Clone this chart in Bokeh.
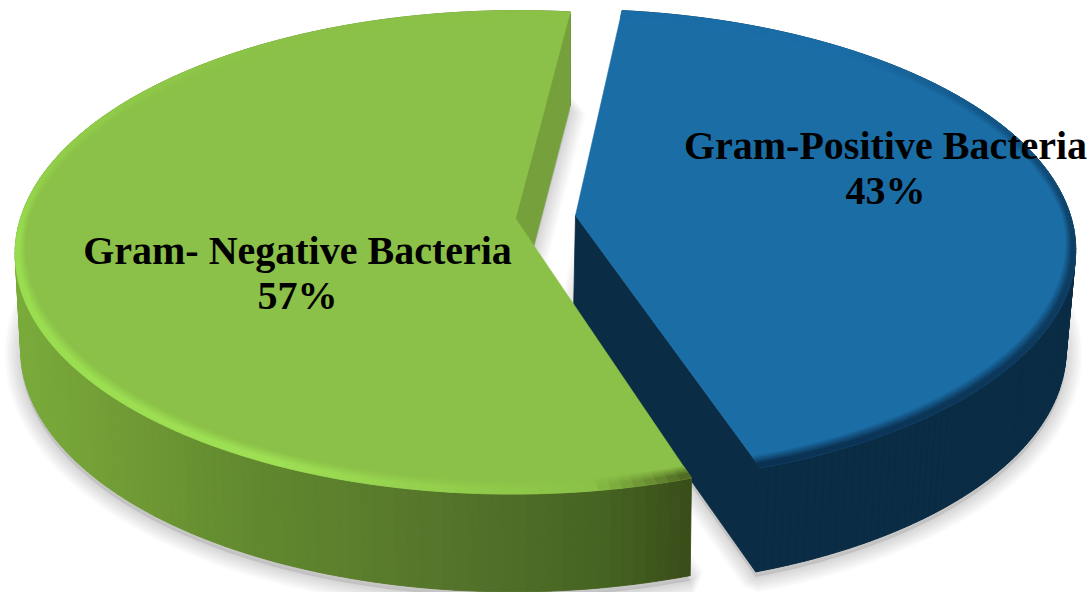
import numpy as np
from bokeh.core.properties import value
from bokeh.embed import file_html
from bokeh.models import Range1d
from bokeh.plotting import figure
from bokeh.resources import INLINE

# Chart content
categories = ["Gram-Positive Bacteria", "Gram- Negative Bacteria"]
shares = [43, 57]
share_labels = ["43%", "57%"]

WIDTH, HEIGHT = 1092, 592
START_ANGLE = 6.9  # clockwise from twelve o'clock
FONT = value("Liberation Serif")


def hex_rgb(c):
    return np.array([int(c[i:i + 2], 16) for i in (1, 3, 5)], dtype=float)


def rgb_hex(c):
    return "#%02x%02x%02x" % tuple(int(round(x)) for x in np.clip(c, 0, 255))


def ramp(x, stops):
    xs = [s[0] for s in stops]
    cols = np.array([hex_rgb(s[1]) for s in stops])
    return np.array([np.interp(x, xs, cols[:, i]) for i in range(3)])


# Projection and shading of each exploded slice of the 3-D disc
styles = [
    dict(ax=575, ay=215, sx=495, sy=233, k=0.13, skew=7, h0=99, mx=0.985, my=1.02, dx=-2,
         top="#1b6da6", inner="#0a2c44", base="#0a2c44",
         rim=[(0, "#1b6da6"), (38, "#1b6da6"), (60, "#14598b"), (95, "#0f3f63"), (165, "#0b3050")],
         wall_x=[(500, "#0a2c44"), (1100, "#0a2c44")]),
    dict(ax=515, ay=218, sx=495, sy=237, k=0.14, skew=-3, h0=95.4, mx=0.99, my=1.0086, dx=0.5,
         top="#8bc148", inner="#76a03b", base="#6d9735",
         rim=[(160, "#3f5219"), (166, "#6a8e32"), (172, "#8bc148"), (185, "#93cd4c"),
              (205, "#9fe055"), (265, "#99dd50"), (280, "#93d04c"), (310, "#8fc84a"),
              (330, "#8bc148"), (370, "#8bc148")],
         wall_x=[(15, "#7aab3b"), (120, "#719c36"), (240, "#628a2f"), (340, "#5c802d"),
                 (440, "#55752b"), (600, "#466422"), (695, "#394b19")]),
]

spans = []
a0 = START_ANGLE
for s in shares:
    spans.append((a0, a0 + 360.0 * s / sum(shares)))
    a0 = spans[-1][1]


def project(st, theta, r=1.0, bottom=False):
    t = np.radians(theta)
    u, v = r * np.sin(t), -r * np.cos(t)
    w = 1 - st["k"] * v
    if bottom:
        return (st["ax"] + st["dx"] + (st["sx"] * st["mx"] * u + st["skew"] * v) / w,
                st["ay"] + st["h0"] + st["sy"] * st["my"] * v / w)
    return st["ax"] + (st["sx"] * u + st["skew"] * v) / w, st["ay"] + st["sy"] * v / w


def rim_radius(theta, frac):
    # the bevel reads wider along the front than at the sides
    drop = 0.016 + 0.024 * abs(np.cos(np.radians(theta)))
    return 1 - drop * (1 - frac)


p = figure(width=WIDTH, height=HEIGHT, output_backend="svg", toolbar_location=None,
           x_range=Range1d(0, WIDTH), y_range=Range1d(HEIGHT, 0), min_border=0)
p.axis.visible = False
p.grid.visible = False
p.outline_line_color = None
p.background_fill_color = "white"
p.border_fill_color = "white"

# Soft ground shadow under both slices
for st, (a, b) in zip(styles, spans):
    th = np.linspace(a, b, 160)
    xb, yb = project(st, th, bottom=True)
    xb = np.r_[st["ax"] + st["dx"], xb]
    yb = np.r_[st["ay"] + st["h0"], yb] + 5
    for g in range(1, 11):
        p.patch(np.r_[xb, xb[0]], np.r_[yb, yb[0]], fill_alpha=0, line_color="#000000",
                line_alpha=0.014, line_width=3.2 * g)
    p.patch(xb, yb, fill_color="#000000", fill_alpha=0.1, line_alpha=0)

# Slices, blue first so the green front edge overlaps its inner wall
for st, (a, b) in zip(styles, spans):
    xs, ys, cs = [], [], []
    th = np.linspace(a, b, 171)

    # solid backing keeps the strip joins from showing
    xa, ya = project(st, th)
    xc, yc = project(st, th[::-1], bottom=True)
    p.patch(np.r_[xa, xc], np.r_[ya, yc], fill_color=st["base"], line_alpha=0)

    # outer wall as narrow shaded strips
    for t0, t1 in zip(th[:-1], th[1:]):
        x0, y0 = project(st, t0)
        x1, y1 = project(st, t1)
        x2, y2 = project(st, t1, bottom=True)
        x3, y3 = project(st, t0, bottom=True)
        xs.append([x0, x1, x2, x3])
        ys.append([y0, y1, y2, y3])
        cs.append(rgb_hex(ramp((x0 + x1) / 2, st["wall_x"])))
    p.patches(xs, ys, fill_color=cs, line_color=cs, line_width=0.8)

    # inner wall along the radial edge that faces the viewer
    edge = b
    xe, ye = project(st, edge)
    xf, yf = project(st, edge, bottom=True)
    p.patch([st["ax"], xe, xf, st["ax"] + st["dx"]], [st["ay"], ye, yf, st["ay"] + st["h0"]],
            fill_color=st["inner"], line_color=st["inner"], line_width=0.8)

    # top face
    xt, yt = project(st, th)
    p.patch(np.r_[st["ax"], xt], np.r_[st["ay"], yt], fill_color=st["top"],
            line_color=st["top"], line_width=0.6)

    # bevel along the outer rim, blended from the face colour to the rim colour
    fracs = np.linspace(0, 1, 8)
    xs, ys, cs = [], [], []
    top_rgb = hex_rgb(st["top"])
    for i, (f0, f1) in enumerate(zip(fracs[:-1], fracs[1:])):
        f = min(1.0, (i + 1) / 5.0)
        for t0, t1 in zip(th[:-1], th[1:]):
            rim = ramp((t0 + t1) / 2, st["rim"])
            col = rgb_hex(top_rgb + (rim - top_rgb) * f)
            x0, y0 = project(st, t0, rim_radius(t0, f0))
            x1, y1 = project(st, t1, rim_radius(t1, f0))
            x2, y2 = project(st, t1, rim_radius(t1, f1))
            x3, y3 = project(st, t0, rim_radius(t0, f1))
            xs.append([x0, x1, x2, x3])
            ys.append([y0, y1, y2, y3])
            cs.append(col)
    p.patches(xs, ys, fill_color=cs, line_color=cs, line_width=0.6)

# Slice labels
label_x = [885, 297]
name_y = [145, 250]
pct_y = [190, 295]
p.text(label_x, name_y, text=categories, text_font=FONT, text_font_style="bold",
       text_font_size="40px", text_align="center", text_baseline="middle", text_color="#000000")
p.text(label_x, pct_y, text=share_labels, text_font=FONT, text_font_style="bold",
       text_font_size="40px", text_align="center", text_baseline="middle", text_color="#000000")

open("out.html", "w").write(file_html(p, INLINE))
